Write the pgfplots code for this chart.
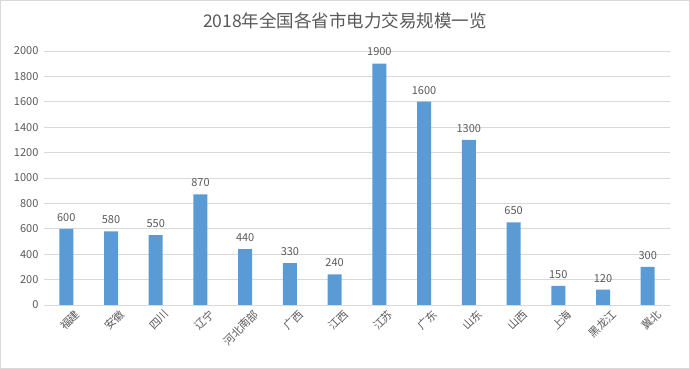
\documentclass[border=0pt]{standalone}
\usepackage{pgfplots}
\pgfplotsset{compat=1.18}
\usepackage{fontspec}
\setmainfont{Noto Sans CJK SC}
\definecolor{barblue}{HTML}{5B9BD5}
\definecolor{txtgray}{HTML}{595959}
\definecolor{gridgray}{HTML}{D9D9D9}
\begin{document}
\begin{tikzpicture}[x=1pt,y=1pt]
\draw[gridgray, line width=0.8pt] (0.5,0.5) rectangle (689.5,368.5);
\node[txtgray, font=\fontsize{17.5}{20}\selectfont] at (345,348) {2018年全国各省市电力交易规模一览};
\begin{axis}[
  at={(44pt,64pt)}, anchor=south west,
  scale only axis, width=626pt, height=254pt,
  xmin=-0.5, xmax=13.5, ymin=0, ymax=2000,
  ytick={0,200,...,2000},
  xtick={0,...,13},
  xticklabels={福建,安徽,四川,辽宁,河北南部,广西,江西,江苏,广东,山东,山西,上海,黑龙江,冀北},
  xticklabel style={rotate=45, anchor=north east, inner sep=0pt, xshift=3pt, yshift=-8pt, font=\fontsize{11}{13}\selectfont, text=txtgray},
  yticklabel style={font=\fontsize{11}{13}\selectfont, text=txtgray, xshift=-2pt},
  /pgf/number format/assume math mode=true,
  /pgf/number format/1000 sep={},
  ymajorgrids, grid style={gridgray, line width=0.6pt},
  axis line style={draw=none},
  axis x line*=bottom,
  x axis line style={draw=gridgray, line width=0.8pt},
  major tick length=0pt,
  ybar, bar width=14pt,
  nodes near coords,
  every node near coord/.append style={font=\fontsize{11}{13}\selectfont, text=txtgray, yshift=4pt},
  clip=false,
]
\addplot[fill=barblue, draw=none] coordinates {
(0,600) (1,580) (2,550) (3,870) (4,440) (5,330) (6,240)
(7,1900) (8,1600) (9,1300) (10,650) (11,150) (12,120) (13,300)};
\end{axis}
\end{tikzpicture}
\end{document}
